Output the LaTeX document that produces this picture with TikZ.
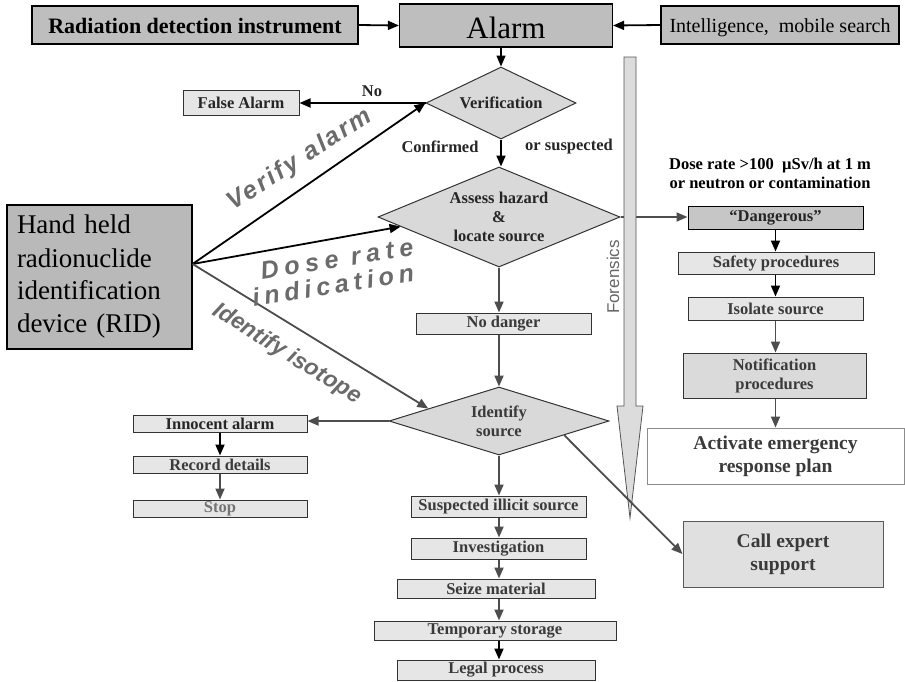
\documentclass[tikz,border=0pt]{standalone}
\usepackage{fontspec}
\setmainfont{Liberation Serif}
\newfontfamily\lsans{Liberation Sans}
\newfontfamily\lsansA[LetterSpace=10]{Liberation Sans}
\newfontfamily\lsansB[LetterSpace=23]{Liberation Sans}
\newfontfamily\lsansC[LetterSpace=20]{Liberation Sans}
\usetikzlibrary{shapes.geometric,arrows.meta,calc}
\definecolor{boxdark}{HTML}{BEBEBE}
\definecolor{ridfill}{HTML}{B9B9B9}
\definecolor{diafill}{HTML}{D9D9D9}
\definecolor{boxlight}{HTML}{E6E6E6}
\definecolor{dangfill}{HTML}{C6C6C6}
\definecolor{notiffill}{HTML}{DADADA}
\definecolor{expfill}{HTML}{E0E0E0}
\definecolor{boxline}{HTML}{333333}
\definecolor{txtdark}{HTML}{3A3A3A}
\definecolor{arrgray}{HTML}{4D4D4D}
\definecolor{forfill}{HTML}{DCDCDC}
\definecolor{forline}{HTML}{555555}
\definecolor{bigtxt}{HTML}{6B6B6B}
\newcommand{\fsl}{\fontsize{16.5}{19}\selectfont}
\newcommand{\fbig}{\fontsize{19.5}{23}\selectfont}
\newcommand{\slsize}{\fontsize{25}{28}\selectfont\bfseries\itshape}
\newcommand{\slsizeB}{\fontsize{23}{26}\selectfont\bfseries\itshape}
\begin{document}
\begin{tikzpicture}[x=1pt,y=-1pt,
  darkbox/.style={rectangle, draw=black, line width=1.2pt, fill=boxdark, inner sep=0pt, align=center},
  lbox/.style={rectangle, draw=boxline, line width=1pt, fill=boxlight, inner sep=0pt, align=center, text=txtdark, font=\fsl\bfseries},
  dia/.style={diamond, draw=boxline, line width=1pt, fill=diafill, inner sep=0pt},
  dlabel/.style={font=\fsl\bfseries, align=center, inner sep=0pt},
  arr/.style={-{Triangle[length=11pt,width=9pt]}, line width=1.8pt, draw=black},
  garr/.style={arr, draw=arrgray},
  slanted/.style={text=bigtxt, inner sep=0pt}
]
\fill[white] (0,0) rectangle (905,681);
\useasboundingbox (0,0) rectangle (905,681);

% top row
\node[darkbox, minimum width=326pt, minimum height=38pt, font=\fontsize{22}{26}\selectfont\bfseries] (rdi) at (195,25) {\raisebox{-1pt}[\height][\depth]{Radiation detection instrument}};
\node[darkbox, minimum width=213pt, minimum height=43pt, font=\fontsize{31}{36}\selectfont] (alarm) at (506,25.5) {\raisebox{-2pt}[\height][\depth]{Alarm}};
\node[darkbox, minimum width=238pt, minimum height=38pt, font=\fontsize{20}{24}\selectfont] (intel) at (780,25) {\raisebox{-3pt}[\height][\depth]{Intelligence,\ \ mobile search}};

% diamonds
\node[dia, minimum width=150pt, minimum height=72pt] (verif) at (501,103) {};
\node[dlabel, text=black!85] at (verif) {Verification};
\node[dia, minimum width=242pt, minimum height=100pt] (assess) at (499,217) {};
\node[dlabel, text=black!85] at (assess) {Assess hazard\\\&\\locate source};
\node[dia, minimum width=220pt, minimum height=68pt] (identify) at (499,421) {};
\node[dlabel, text=txtdark] at (identify) {Identify\\source};

% left boxes
\node[lbox, minimum width=116pt, minimum height=25pt, text=black!85] (false) at (241,103) {False Alarm};
\node[darkbox, fill=ridfill, minimum width=185pt, minimum height=144pt, text width=165pt, align=left, font=\fontsize{27}{33}\selectfont] (rid) at (99.5,277) {Hand held\\radionuclide\\identification\\device (RID)};
\node[lbox, minimum width=174pt, minimum height=17pt, text=black!85] (innocent) at (220,423.5) {Innocent alarm};
\node[lbox, minimum width=174pt, minimum height=17pt] (record) at (220,464.5) {Record details};
\node[lbox, minimum width=174pt, minimum height=17pt, text=black!55] (stop) at (220,508.5) {Stop};

% middle column
\node[lbox, minimum width=175pt, minimum height=21pt] (nodanger) at (503.5,323.5) {No danger};
\node[lbox, minimum width=175pt, minimum height=21pt] (suspect) at (498.5,506.5) {Suspected illicit source};
\node[lbox, minimum width=175pt, minimum height=21pt] (invest) at (498.5,548.5) {Investigation};
\node[lbox, minimum width=198pt, minimum height=19pt] (seize) at (496,588.5) {Seize material};
\node[lbox, minimum width=242pt, minimum height=19pt] (temp) at (495,630.5) {Temporary storage};
\node[lbox, minimum width=198pt, minimum height=20pt] (legal) at (496,670) {Legal process};

% right column
\node[font=\fsl\bfseries, align=center, inner sep=0pt] (doserate) at (770,173.5) {Dose rate >100\ \ µSv/h at 1 m\\or neutron or contamination};
\node[lbox, fill=dangfill, draw=black, minimum width=175pt, minimum height=23pt, text=black!85] (dang) at (775.5,217.5) {“Dangerous”};
\node[lbox, minimum width=196pt, minimum height=22pt] (safety) at (776,263) {Safety procedures};
\node[lbox, minimum width=175pt, minimum height=23pt] (isolate) at (775.5,308.5) {Isolate source};
\node[lbox, fill=notiffill, minimum width=183pt, minimum height=45pt] (notif) at (774.5,375.5) {Notification\\procedures};
\node[lbox, fill=white, draw=black!45, minimum width=257pt, minimum height=56pt, font=\fbig\bfseries] (activate) at (775.5,456) {Activate emergency\\response plan};
\node[lbox, fill=expfill, draw=black!65, minimum width=200pt, minimum height=66pt, font=\fbig\bfseries] (expert) at (783,554) {Call expert\\support};

% top arrows
\draw[arr] (rdi.east) -- (alarm.west);
\draw[arr] (intel.west) -- (alarm.east);
\draw[arr, line width=1.5pt] (verif.north |- alarm.south) -- (verif.north);
\draw[arr] (verif.west) -- (false.east);
\node[font=\fsl\bfseries, text=black!85] (nolbl) at (372,91) {No};
\draw[arr] (verif.south) -- (verif.south |- assess.north);
\node[font=\fsl\bfseries, text=black!85] (conf) at (440,147) {Confirmed};
\node[font=\fsl\bfseries, text=black!85] (orsus) at (569,147) {or suspected};

% RID arrows
\coordinate (ridout) at ([yshift=13pt]rid.east);
\draw[arr] (ridout) -- (verif.west);
\draw[arr] (ridout) -- ($(assess.west)!0.19!(assess.south)$);
\draw[garr] (ridout) -- ($(identify.west)!0.36!(identify.north)$);

% middle arrows
\draw[garr] (assess.south) -- (nodanger.north -| assess.south);
\draw[garr] (nodanger.south -| identify.north) -- (identify.north);
\draw[garr] (identify.west) -- (identify.west -| innocent.east);
\draw[arr] (innocent.south) -- (record.north);
\draw[garr] (record.south) -- (stop.north);
\draw[garr] (identify.south) -- (suspect.north -| identify.south);
\draw[garr] (suspect.south -| identify.south) -- (invest.north -| identify.south);
\draw[garr] (invest.south -| identify.south) -- (seize.north -| identify.south);
\draw[garr] (seize.south -| identify.south) -- (temp.north -| identify.south);
\draw[arr] (temp.south -| identify.south) -- (legal.north -| identify.south);

% right arrows
\draw[garr] (assess.east) -- (assess.east -| dang.west);
\draw[arr] (dang.south) -- (dang.south |- safety.north);
\draw[arr] (dang.south |- safety.south) -- (isolate.north);
\draw[garr] (isolate.south) -- (isolate.south |- notif.north);
\draw[garr] (isolate.south |- notif.south) -- (isolate.south |- activate.north);

% forensics arrow
\draw[draw=forline, fill=forfill, line width=0.8pt] (624,57) -- (636,57) -- (636,406) -- (643,406) -- (630,518) -- (617,406) -- (624,406) -- cycle;
\node[rotate=90, font=\lsans\fontsize{17}{20}\selectfont, text=black!60] (forens) at (613,277) {Forensics};

% identify -> expert
\draw[garr] ($(identify.east)!0.41!(identify.south)$) -- (expert.west);

% slanted labels
\node[slanted, rotate=33, font=\lsansA\slsize] (lverify) at (300,160) {Verify alarm};
\node[slanted, rotate=9, font=\lsansB\slsize] (ldose) at (337,259) {Dose rate};
\node[slanted, rotate=9, font=\lsansC\slsize] (lind) at (333,285) {indication};
\node[slanted, rotate=-32, font=\lsans\slsizeB] (liso) at (287,354) {Identify isotope};
\end{tikzpicture}
\end{document}
